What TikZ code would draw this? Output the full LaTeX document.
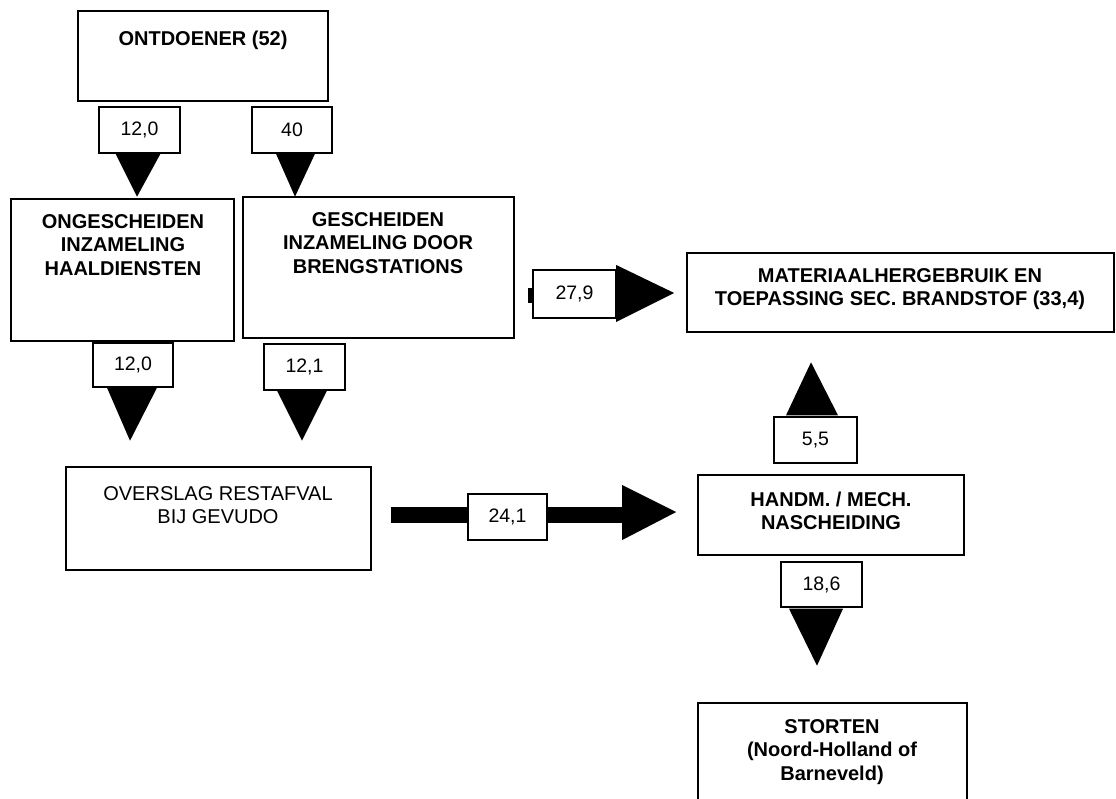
\documentclass[tikz,border=0pt]{standalone}
\usepackage{fontspec}
\setmainfont{Liberation Sans}
\usetikzlibrary{calc}
\begin{document}
\begin{tikzpicture}[x=1pt,y=-1pt,
  box/.style={draw, line width=1.6pt, rectangle, inner sep=0pt},
  num/.style={draw, line width=1.4pt, fill=white, inner sep=0pt,
              font=\fontsize{19.5}{23}\selectfont},
  head/.style={align=center, inner sep=0pt,
               font=\fontsize{20}{23.5}\selectfont\bfseries},
  body/.style={align=center, inner sep=0pt,
               font=\fontsize{20}{23.5}\selectfont}]
\useasboundingbox (0,0) rectangle (1116,798);

% process boxes
\node[box, minimum width=250pt, minimum height=90pt]  (ont) at (203,56) {};
\node[box, minimum width=223pt, minimum height=142pt] (ong) at (122.5,270) {};
\node[box, minimum width=271pt, minimum height=141pt] (ges) at (378.5,267.5) {};
\node[box, minimum width=305pt, minimum height=103pt] (ovs) at (218.5,518.5) {};
\node[box, minimum width=427pt, minimum height=79pt]  (mat) at (900.5,292.5) {};
\node[box, minimum width=266pt, minimum height=80pt]  (han) at (831,515) {};
\node[box, minimum width=269pt, minimum height=100pt] (sto) at (832.5,753) {};

% box texts
\node[head] (ont-t) at (203,40) {ONTDOENER (52)};
\node[head] (ong-t) at (123,245) {ONGESCHEIDEN\\INZAMELING\\HAALDIENSTEN};
\node[head] (ges-t) at (378,243) {GESCHEIDEN\\INZAMELING DOOR\\BRENGSTATIONS};
\node[body] (ovs-t) at (218,505) {OVERSLAG RESTAFVAL\\BIJ GEVUDO};
\node[head] (mat-t) at (900,289) {MATERIAALHERGEBRUIK EN\\TOEPASSING SEC. BRANDSTOF (33,4)};
\node[head] (han-t) at (831,511) {HANDM. / MECH.\\NASCHEIDING};
\node[head] (sto-t) at (832,752) {STORTEN\\(Noord-Holland of\\Barneveld)};

% horizontal block arrows: shafts and heads behind the value labels
\fill ($(ovs.east)+(19,-12)$) rectangle ($(han.west)+(-75,8)$);
\fill ($(han.west)+(-75,-30)$) -- ($(han.west)+(-75,25)$) -- ($(han.west)+(-21,-3)$) -- cycle;
\fill ($(mat.west)+(-158,-5)$) rectangle ($(mat.west)+(-68,10)$);
\fill ($(mat.west)+(-70,-27.5)$) -- ($(mat.west)+(-70,29.5)$) -- ($(mat.west)+(-12,0.5)$) -- cycle;

% value labels
\node[num, minimum width=81pt, minimum height=46pt] (n1) at (139.5,130) {12,0};
\node[num, minimum width=80pt, minimum height=46pt] (n2) at (292,130) {40};
\node[num, minimum width=80pt, minimum height=44pt] (n3) at (133,365) {12,0};
\node[num, minimum width=81pt, minimum height=46pt] (n4) at (304.5,367) {12,1};
\node[num, minimum width=79pt, minimum height=46pt] (n5) at (507.5,517) {24,1};
\node[num, minimum width=83pt, minimum height=48pt] (n6) at (574.5,294) {27,9};
\node[num, minimum width=83pt, minimum height=46pt] (n7) at (815.5,440) {5,5};
\node[num, minimum width=81pt, minimum height=45pt] (n8) at (821.5,584.5) {18,6};

% vertical arrow heads
\fill ($(n1.south)+(-24,0)$) -- ($(n1.south)+(21,0)$) -- ($(n1.south)+(-2.5,43)$) -- cycle;
\fill ($(n2.south)+(-16,0)$) -- ($(n2.south)+(23,0)$) -- ($(n2.south)+(3,43)$) -- cycle;
\fill ($(n3.south)+(-26,0)$) -- ($(n3.south)+(24,0)$) -- ($(n3.south)+(-3,53)$) -- cycle;
\fill ($(n4.south)+(-27.5,0)$) -- ($(n4.south)+(22.5,0)$) -- ($(n4.south)+(-2.5,50)$) -- cycle;
\fill ($(n7.north)+(-29.5,-1)$) -- ($(n7.north)+(22.5,-1)$) -- ($(n7.north)+(-4.5,-54)$) -- cycle;
\fill ($(n8.south)+(-32.5,1)$) -- ($(n8.south)+(21.5,1)$) -- ($(n8.south)+(-4.5,58)$) -- cycle;
\end{tikzpicture}
\end{document}
